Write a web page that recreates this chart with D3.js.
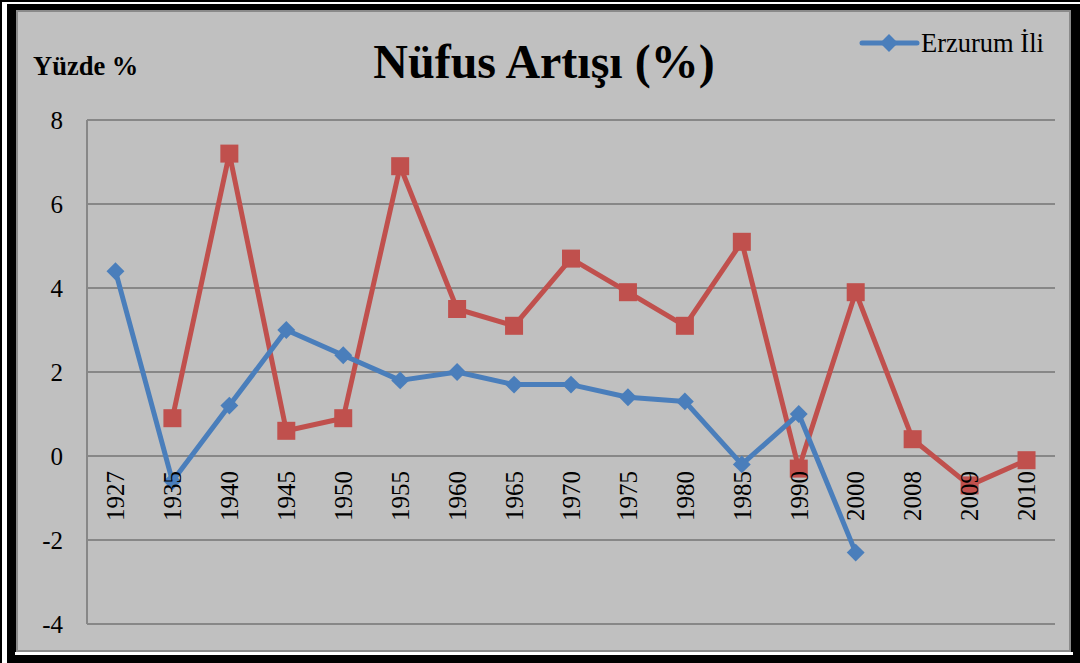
<!DOCTYPE html>
<html><head><meta charset="utf-8">
<script src="https://cdn.jsdelivr.net/npm/d3@7"></script>
<style>body{margin:0;background:#fff}svg{display:block}</style>
</head><body>
<script>
const categories = ["1927","1935","1940","1945","1950","1955","1960","1965","1970","1975","1980","1985","1990","2000","2008","2009","2010"];
const erzurum = [4.4,-0.6,1.2,3.0,2.4,1.8,2.0,1.7,1.7,1.4,1.3,-0.2,1.0,-2.3,null,null,null];
const turkiye = [null,0.9,7.2,0.6,0.9,6.9,3.5,3.1,4.7,3.9,3.1,5.1,-0.3,3.9,0.4,-0.7,-0.1];
const yTicks = [-4,-2,0,2,4,6,8];

(function(){
const W = 1080, H = 663;
const svg = d3.select("body").append("svg").attr("width", W).attr("height", H);
const serif = "'Liberation Serif','Times New Roman',serif";

// frames
svg.append("rect").attr("x",0).attr("y",0).attr("width",W).attr("height",H).attr("fill","#fff");
svg.append("rect").attr("x",1).attr("y",1).attr("width",W+10).attr("height",H+10).attr("fill","none").attr("stroke","#000").attr("stroke-width",2);
svg.append("rect").attr("x",7).attr("y",4).attr("width",W-7).attr("height",H-4).attr("fill","#000");
svg.append("rect").attr("x",15).attr("y",652).attr("width",1058).attr("height",3).attr("fill","#fff");
svg.append("rect").attr("x",17).attr("y",11).attr("width",1053).attr("height",640).attr("fill","#c0c0c0").attr("stroke","#8a8a8a").attr("stroke-width",2);

const pLeft = 87, pRight = 1055, pTop = 120, pBottom = 624;
const x = d3.scaleBand().domain(categories).range([pLeft, pRight]);
const y = d3.scaleLinear().domain([-4, 8]).range([pBottom, pTop]);
const cx = d => x(d) + x.bandwidth()/2;

// gridlines
svg.append("g").selectAll("line").data(yTicks).join("line")
  .attr("x1", pLeft).attr("x2", pRight).attr("y1", d=>y(d)).attr("y2", d=>y(d))
  .attr("stroke","#878787").attr("stroke-width",2);
svg.append("line").attr("x1",pLeft).attr("x2",pLeft).attr("y1",pTop).attr("y2",pBottom).attr("stroke","#878787").attr("stroke-width",2);

// y tick labels
svg.append("g").selectAll("text").data(yTicks).join("text")
  .attr("x", 63).attr("y", d=>y(d)).attr("dy","0.35em").attr("text-anchor","end")
  .attr("font-family", serif).attr("font-size", 25).attr("fill","#000").text(d=>d);

const line = d3.line().defined(d=>d.v!=null).x(d=>cx(d.c)).y(d=>y(d.v));
const redData = categories.map((c,i)=>({c, v:turkiye[i]}));
const blueData = categories.map((c,i)=>({c, v:erzurum[i]}));

svg.append("path").datum(redData).attr("d", line).attr("fill","none")
  .attr("stroke","#c0504d").attr("stroke-width",5).attr("stroke-linejoin","round").attr("stroke-linecap","round");
svg.append("g").selectAll("rect").data(redData.filter(d=>d.v!=null)).join("rect")
  .attr("x", d=>cx(d.c)-9).attr("y", d=>y(d.v)-9).attr("width",18).attr("height",18).attr("fill","#c0504d");

svg.append("path").datum(blueData).attr("d", line).attr("fill","none")
  .attr("stroke","#4a7ebb").attr("stroke-width",5).attr("stroke-linejoin","round").attr("stroke-linecap","round");
const diamond = d3.symbol().type(d3.symbolSquare).size(160);
svg.append("g").selectAll("path").data(blueData.filter(d=>d.v!=null)).join("path")
  .attr("d", diamond).attr("transform", d=>`translate(${cx(d.c)},${y(d.v)}) rotate(45)`).attr("fill","#4a7ebb");

// x labels
svg.append("g").selectAll("text").data(categories).join("text")
  .attr("transform", d=>`translate(${cx(d)},${y(0)+15}) rotate(-90)`)
  .attr("dy","0.35em").attr("text-anchor","end")
  .attr("font-family", serif).attr("font-size", 25).attr("fill","#000").text(d=>d);

// title
svg.append("text").attr("x", 544).attr("y", 78).attr("text-anchor","middle")
  .attr("font-family", serif).attr("font-weight","bold").attr("font-size", 48).attr("fill","#000").text("Nüfus Artışı (%)");
svg.append("text").attr("x", 33).attr("y", 75)
  .attr("font-family", serif).attr("font-weight","bold").attr("font-size", 26.5).attr("fill","#000").text("Yüzde %");

// legend
svg.append("line").attr("x1",862).attr("x2",917).attr("y1",43).attr("y2",43).attr("stroke","#4a7ebb").attr("stroke-width",5).attr("stroke-linecap","round");
svg.append("path").attr("d", diamond).attr("transform","translate(889,43) rotate(45)").attr("fill","#4a7ebb");
svg.append("text").attr("x",921).attr("y",52).attr("font-family", serif).attr("font-size",26.5).attr("fill","#000").text("Erzurum İli");
})();
</script>
</body></html>
